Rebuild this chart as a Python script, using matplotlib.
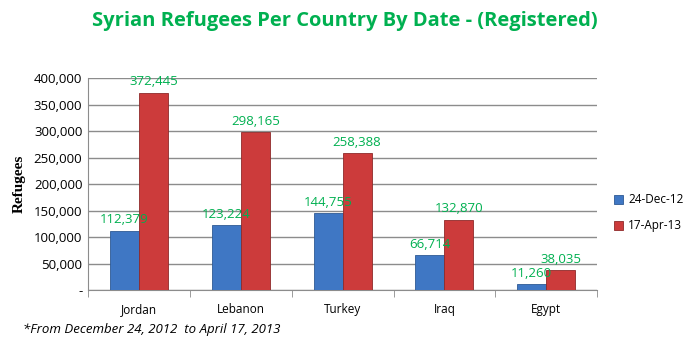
import matplotlib.pyplot as plt
import numpy as np
from matplotlib.ticker import FuncFormatter

countries = ["Jordan", "Lebanon", "Turkey", "Iraq", "Egypt"]
dec12 = [112379, 123224, 144755, 66714, 11260]
apr13 = [372445, 298165, 258388, 132870, 38035]
series_names = ["24-Dec-12", "17-Apr-13"]

GREEN = "#00B050"
BLUE = "#3F77C4"
RED = "#CC3B3B"

plt.rcParams['font.family'] = ['Open Sans', 'DejaVu Sans']

fig = plt.figure(figsize=(6.9, 3.5), dpi=100)
ax = fig.add_axes([0.1275, 0.171, 0.738, 0.606])

x = np.arange(len(countries))
w = 0.285
b1 = ax.bar(x - w / 2, dec12, w, color=BLUE, edgecolor="#2E5A94", linewidth=0.6,
            label=series_names[0], zorder=3)
b2 = ax.bar(x + w / 2, apr13, w, color=RED, edgecolor="#8E2A2A", linewidth=0.6,
            label=series_names[1], zorder=3)

for bars, vals in ((b1, dec12), (b2, apr13)):
    for r, v in zip(bars, vals):
        ax.text(r.get_x() + r.get_width() / 2, v + 8000, f"{v:,}",
                ha="center", va="bottom", color=GREEN, fontsize=9.5, zorder=4)

ax.set_xlim(-0.5, len(countries) - 0.5)
ax.set_ylim(0, 400000)
ax.set_yticks(np.arange(0, 400001, 50000))
ax.yaxis.set_major_formatter(FuncFormatter(lambda v, p: "-" if v == 0 else f"{int(v):,}"))
ax.grid(axis="y", color="#8C8C8C", linewidth=1.0, zorder=0)
ax.tick_params(axis="y", length=0, labelsize=9.5, pad=4)

ax.set_xticks(x)
ax.set_xticklabels(countries, fontsize=8.5)
ax.set_xticks(np.arange(-0.5, len(countries), 1), minor=True)
ax.tick_params(axis="x", which="major", length=0, pad=9)
ax.tick_params(axis="x", which="minor", length=5, color="#8C8C8C")

for s in ("top", "right"):
    ax.spines[s].set_visible(False)
ax.spines["left"].set_color("#8C8C8C")
ax.spines["bottom"].set_color("#8C8C8C")

ax.set_ylabel("Refugees", family="Liberation Serif", fontweight="bold", fontsize=11, labelpad=6)

fig.text(0.5, 0.94, "Syrian Refugees Per Country By Date - (Registered)", ha="center",
         va="center", color=GREEN, fontsize=14.5, fontweight="bold")
fig.text(0.033, 0.06, "*From December 24, 2012  to April 17, 2013", ha="left", va="center",
         fontsize=9.5, style="italic")

ax.legend(loc="center left", bbox_to_anchor=(1.012, 0.365), frameon=False, fontsize=8.5,
          handlelength=0.8, handleheight=0.8, handletextpad=0.4, labelspacing=1.1)

fig.savefig("out.png", dpi=100)
